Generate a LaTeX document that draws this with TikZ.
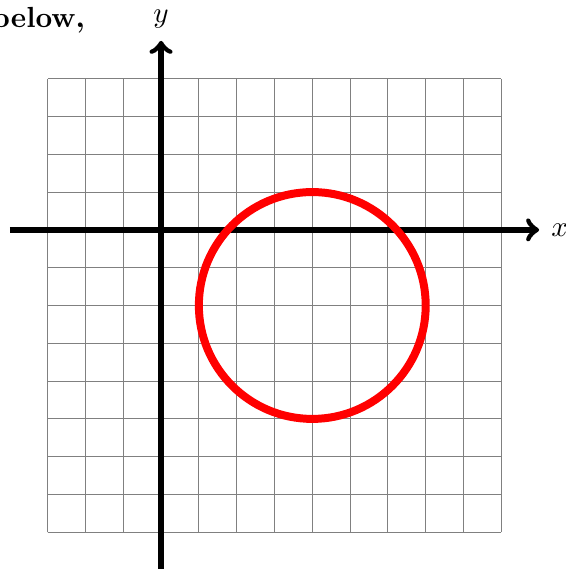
\documentclass[tikz,border=0pt,11pt]{standalone}
\usepackage{tikz}
\usetikzlibrary{positioning,arrows.meta,calc}

\begin{document}
\begin{tikzpicture}[x=0.5cm,y=0.5cm,>=to]
  \useasboundingbox (-4.26,-8.97) rectangle (10.69,6.08);
  \draw[gray,line width=0.4pt,step=0.5cm] (-3,-8) grid (9,4);
  \coordinate (xl) at (-4,0); \coordinate (xr) at (10,0);
  \coordinate (yb) at (0,-9); \coordinate (yt) at (0,5);
  \draw[->,line width=2pt] (xl) -- (xr) node[right] (xlab) {$x$};
  \draw[->,line width=2pt] (yb) -- (yt) node[above] (ylab) {$y$};
  \coordinate (c) at (4,-2);
  \draw[red,line width=3pt] (c) circle (3);
  \node[anchor=base east,inner sep=0pt] (txt) at (-2.0,5.34) {\textbf{below,}};
\end{tikzpicture}
\end{document}
